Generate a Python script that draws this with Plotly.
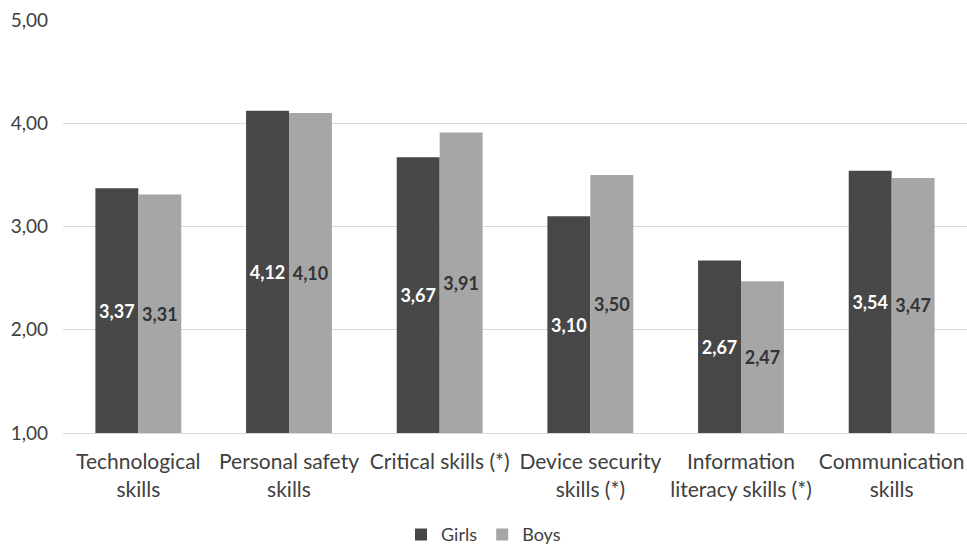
import plotly.graph_objects as go

categories = ["Technological<br>skills", "Personal safety<br>skills", "Critical skills (*)",
              "Device security<br>skills (*)", "Information<br>literacy skills (*)", "Communication<br>skills"]
girls = [3.37, 4.12, 3.67, 3.10, 2.67, 3.54]
boys = [3.31, 4.10, 3.91, 3.50, 2.47, 3.47]
baseline = 1.0
y_ticks = [1, 2, 3, 4, 5]
y_tick_labels = ["1,00", "2,00", "3,00", "4,00", "5,00"]

def fmt(v):
    return f"{v:.2f}".replace(".", ",")

FONT = "Lato"

fig = go.Figure()
fig.add_trace(go.Bar(
    name="Girls", x=categories, y=[v - baseline for v in girls], base=baseline,
    marker=dict(color="#474747", line=dict(width=0)),
    text=[fmt(v) for v in girls], textposition="inside", insidetextanchor="middle",
    textangle=0,
    textfont=dict(color="#ffffff", size=18, family=FONT, weight="bold"),
))
fig.add_trace(go.Bar(
    name="Boys", x=categories, y=[v - baseline for v in boys], base=baseline,
    marker=dict(color="#a6a6a6", line=dict(width=0)),
    text=[fmt(v) for v in boys], textposition="inside", insidetextanchor="middle",
    textangle=0,
    textfont=dict(color="#333333", size=18, family=FONT, weight="bold"),
))

fig.update_layout(
    width=967, height=544,
    margin=dict(l=63, r=0, t=20, b=111, autoexpand=False),
    paper_bgcolor="white", plot_bgcolor="white",
    barmode="group", bargap=0.43, bargroupgap=0,
    font=dict(family=FONT, color="#404040"),
    legend=dict(orientation="h", x=0.5, xanchor="center", xref="container",
                y=0.017, yanchor="middle", yref="container",
                font=dict(size=18, color="#404040"), itemwidth=30),
    showlegend=True,
)
fig.update_yaxes(range=[1, 5], tickvals=y_ticks, ticktext=y_tick_labels,
                 showgrid=True, gridcolor="#d9d9d9", gridwidth=1, zeroline=False,
                 tickfont=dict(size=19, color="#404040"), ticks="", showline=False,
                 ticklabelstandoff=14)
fig.update_xaxes(showgrid=False, showline=True, linecolor="#d9d9d9", linewidth=1,
                 tickfont=dict(size=21, color="#404040"), ticks="",
                 ticklabelstandoff=10)

fig.write_html("out.html")
